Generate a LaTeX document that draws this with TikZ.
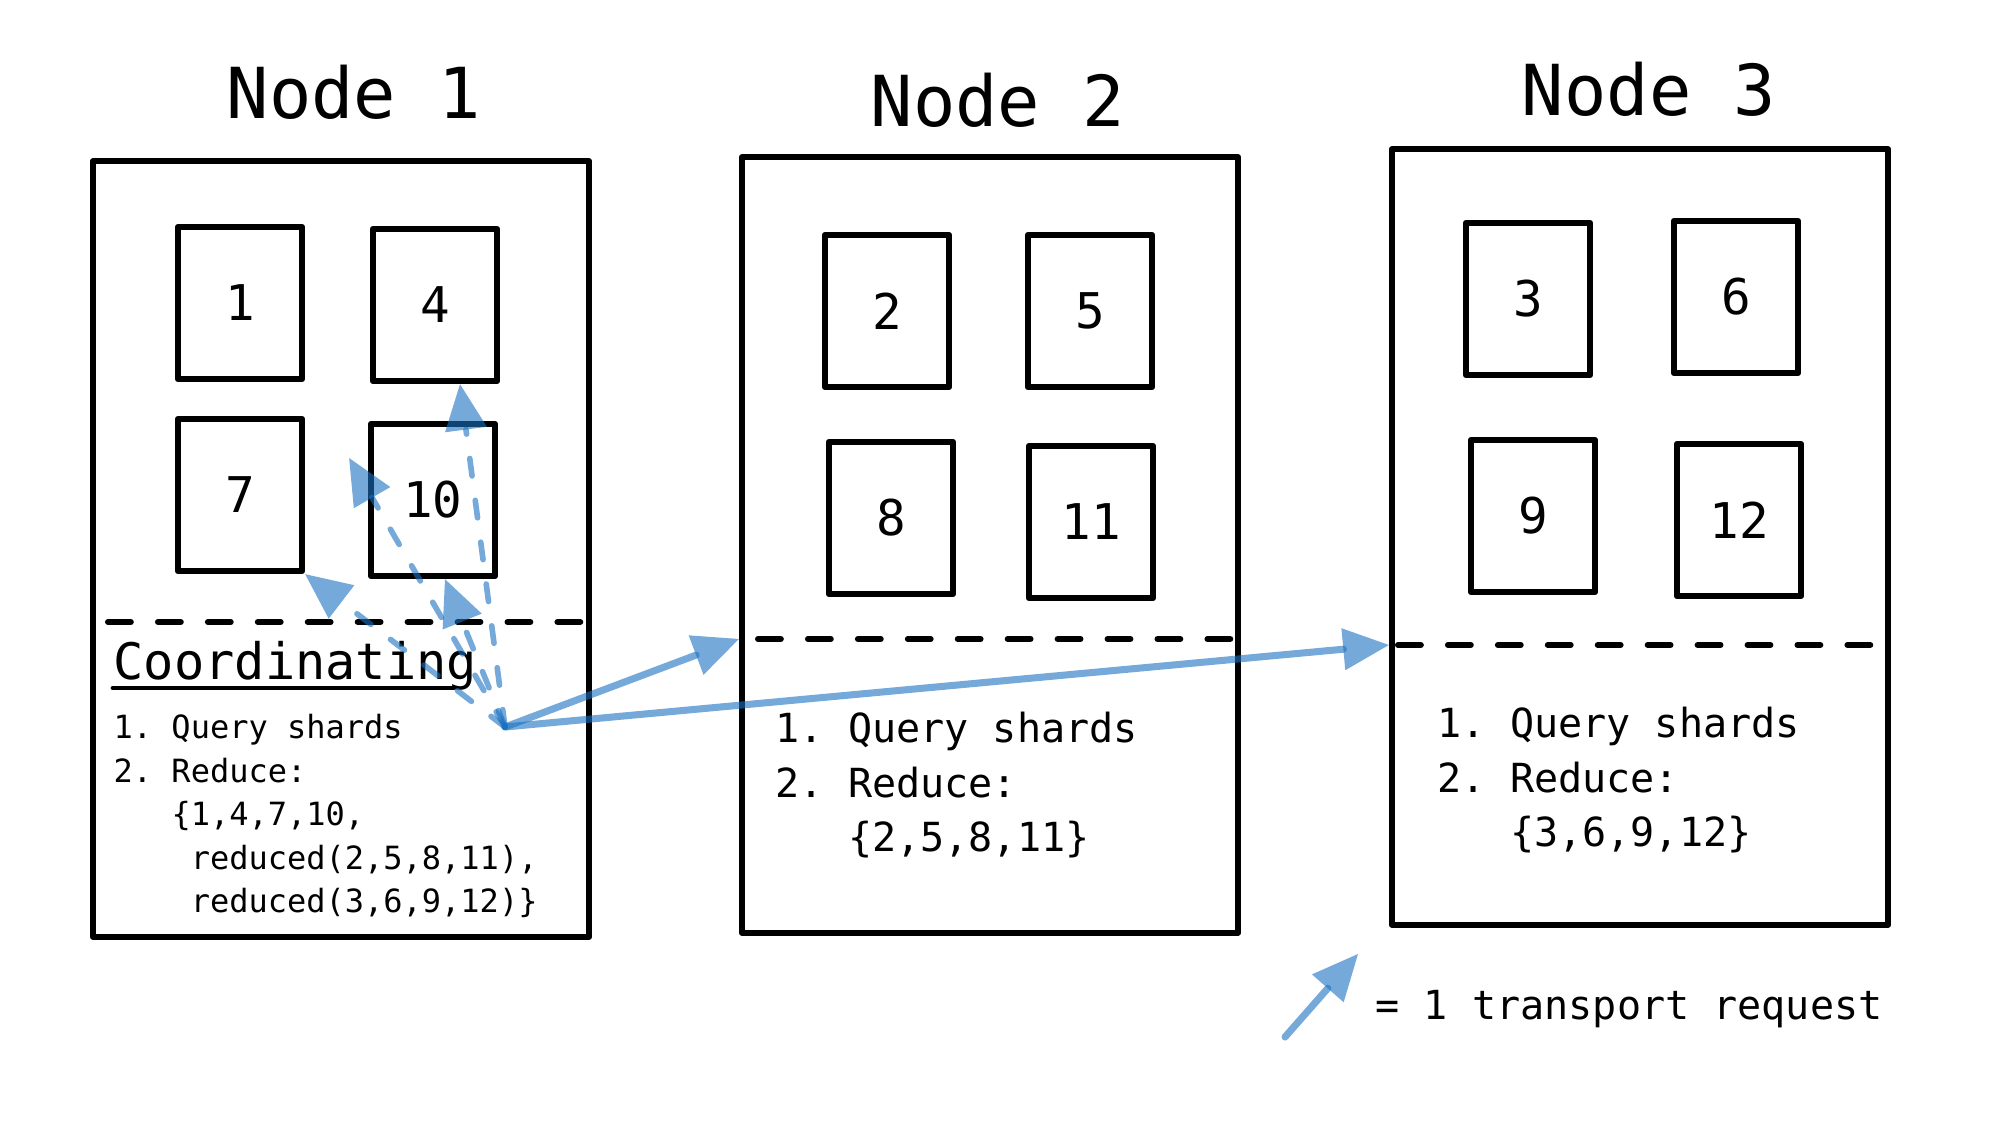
\documentclass[tikz,border=0pt]{standalone}
\usepackage{fontspec}
\usepackage{xcolor}
\usepackage{tikz}
\usetikzlibrary{arrows.meta,calc}
\newfontfamily\sketch{DejaVu Sans Mono}
\definecolor{reqblue}{HTML}{1971C2}
\frenchspacing

\begin{document}
\begin{tikzpicture}[
  x=0.01cm, y=-0.01cm,
  host/.style={draw, line width=1.7pt, line join=round, minimum width=4.96cm, minimum height=7.75cm, inner sep=0pt},
  shard/.style={draw, line width=1.8pt, line join=round, minimum width=1.24cm, minimum height=1.52cm, inner sep=0pt, font=\sketch\fontsize{14}{16}\selectfont},
  title/.style={anchor=base, inner sep=0pt, font=\sketch\fontsize{20}{24}\selectfont},
  small/.style={anchor=base west, inner sep=0pt, align=left, font=\sketch\fontsize{9.1}{12.4}\selectfont},
  steps/.style={anchor=base west, inner sep=0pt, align=left, font=\sketch\fontsize{11.4}{15.6}\selectfont},
  sep/.style={line width=1.7pt, line cap=round, dash pattern=on 6.5pt off 7.7pt},
  req/.style={draw=reqblue, opacity=0.6, line width=2pt, line cap=round, -{Triangle[length=13pt, width=12pt, line width=0pt]}},
  reqd/.style={req, line width=1.6pt, dash pattern=on 5pt off 7pt},
]
\fill[white] (0,0) rectangle (1999,1134);
\useasboundingbox (0,0) rectangle (1999,1134);

\node[title] (t1) at (354,119) {Node 1};
\node[title] (t2) at (998,127) {Node 2};
\node[title] (t3) at (1649,116) {Node 3};

\node[host] (node1) at (341,549) {};
\node[host] (node2) at (990,545) {};
\node[host] (node3) at (1640,537) {};

\node[shard] (s1) at (240,303) {1};
\node[shard] (s4) at (435,305) {4};
\node[shard] (s7) at (240,495) {7};
\node[shard] (s10) at (433,500) {10};
\node[shard] (s2) at (887,311) {2};
\node[shard] (s5) at (1090,311) {5};
\node[shard] (s8) at (891,518) {8};
\node[shard] (s11) at (1091,522) {11};
\node[shard] (s3) at (1528,299) {3};
\node[shard] (s6) at (1736,297) {6};
\node[shard] (s9) at (1533,516) {9};
\node[shard] (s12) at (1739,520) {12};

\coordinate (sep1) at (108,622);
\coordinate (sep2) at (758,639);
\coordinate (sep3) at (1398,645);
\draw[sep] (sep1) -- (sep1 -| node1.east);
\draw[sep] (sep2) -- (sep2 -| node2.east);
\draw[sep] (sep3) -- (sep3 -| node3.east);

\node[anchor=base west, inner sep=0pt, font=\sketch\fontsize{14.3}{17}\selectfont] (coord) at (113,680) {Coordinating};
\draw[line width=1.4pt, line cap=round] ([yshift=-0.08cm]coord.base west) -- ([yshift=-0.08cm, xshift=-0.24cm]coord.base east);
\node[small] (steps1) at (113,913) {1. Query shards\\2. Reduce:\\~~~\{1,4,7,10,\\~~~~reduced(2,5,8,11),\\~~~~reduced(3,6,9,12)\}};
\node[steps] (steps2) at (775,852) {1. Query shards\\2. Reduce:\\~~~\{2,5,8,11\}};
\node[steps] (steps3) at (1437,847) {1. Query shards\\2. Reduce:\\~~~\{3,6,9,12\}};

\coordinate (req) at (505,727);
\draw[req] (req) -- (sep2 -| node2.west);
\draw[req] (req) -- (sep3 -| node3.west);
\draw[reqd] (req) -- (s7.south east);
\draw[reqd] (req) -- ([xshift=0.12cm]s10.south);
\draw[reqd] (req) -- ([xshift=0.25cm]s4.south);
\draw[reqd] (req) -- ($(req)!0.78!(s1.south east)$);

\coordinate (lgtail) at (1285,1037);
\coordinate (lghead) at (1358,954);
\draw[req] (lgtail) -- (lghead);
\node[steps] (legend) at (1375,1020) {= 1 transport request};
\end{tikzpicture}
\end{document}
